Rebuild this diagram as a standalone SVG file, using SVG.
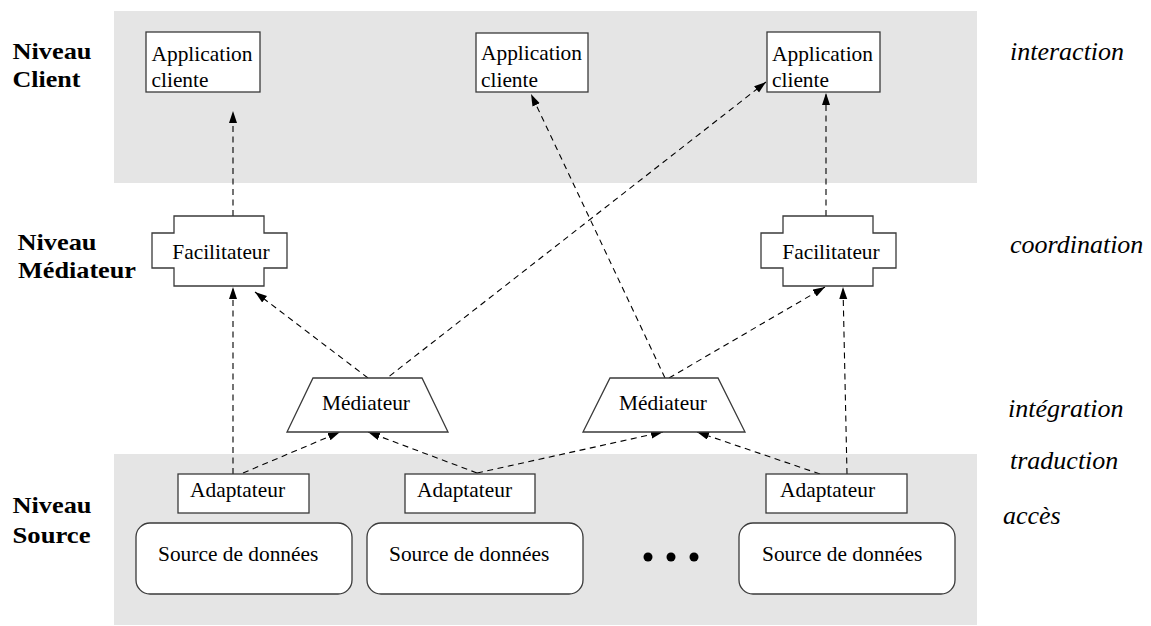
<svg xmlns="http://www.w3.org/2000/svg" width="1151" height="626" viewBox="0 0 1151 626">
  <style>
    .band { fill: #e5e5e5; stroke: none; }
    .box { fill: #ffffff; stroke: #3a3a3a; stroke-width: 1.3; }
    .lbl { font-family: "Liberation Serif", "Times New Roman", serif; font-size: 21.4px; fill: #000; }
    .lvl { font-family: "Liberation Serif", "Times New Roman", serif; font-size: 24px; font-weight: bold; fill: #000; }
    .role { font-family: "Liberation Serif", "Times New Roman", serif; font-size: 26px; font-style: italic; fill: #000; }
    .conn { fill: none; stroke: #000; stroke-width: 1.1; stroke-dasharray: 6 4.5; marker-end: url(#head); }
  </style>
  <defs>
    <marker id="head" markerUnits="userSpaceOnUse" markerWidth="13" markerHeight="9" refX="12" refY="4" orient="auto">
      <path d="M0,0 L12,4 L0,8 z" fill="#000"/>
    </marker>
  </defs>

  <!-- level bands -->
  <rect class="band" x="114" y="11" width="863" height="172"/>
  <rect class="band" x="114" y="454" width="863" height="171"/>

  <!-- level names -->
  <text class="lvl" x="12.5" y="59" textLength="79" lengthAdjust="spacingAndGlyphs">Niveau</text>
  <text class="lvl" x="12.5" y="87" textLength="68" lengthAdjust="spacingAndGlyphs">Client</text>
  <text class="lvl" x="17.5" y="250" textLength="79" lengthAdjust="spacingAndGlyphs">Niveau</text>
  <text class="lvl" x="18" y="278" textLength="118" lengthAdjust="spacingAndGlyphs">Médiateur</text>
  <text class="lvl" x="12.5" y="513" textLength="79" lengthAdjust="spacingAndGlyphs">Niveau</text>
  <text class="lvl" x="12.5" y="543" textLength="78" lengthAdjust="spacingAndGlyphs">Source</text>

  <!-- roles -->
  <text class="role" x="1010" y="60">interaction</text>
  <text class="role" x="1010" y="253">coordination</text>
  <text class="role" x="1008" y="417">intégration</text>
  <text class="role" x="1010" y="469">traduction</text>
  <text class="role" x="1003" y="524">accès</text>

  <!-- connectors -->
  <g id="connectors">
    <line class="conn" x1="233" y1="474" x2="233" y2="287"/>
    <line class="conn" x1="233" y1="216" x2="233" y2="111"/>
    <line class="conn" x1="368" y1="378" x2="255" y2="292"/>
    <line class="conn" x1="373" y1="389" x2="766" y2="82"/>
    <line class="conn" x1="665" y1="378" x2="531" y2="94"/>
    <line class="conn" x1="669" y1="378" x2="825" y2="287"/>
    <line class="conn" x1="847" y1="474" x2="843" y2="287"/>
    <line class="conn" x1="826" y1="216" x2="826" y2="93"/>
    <line class="conn" x1="243" y1="473" x2="340" y2="432"/>
    <line class="conn" x1="477" y1="473" x2="368" y2="432"/>
    <line class="conn" x1="477" y1="473" x2="663" y2="432"/>
    <line class="conn" x1="820" y1="474" x2="697" y2="432"/>
  </g>

  <!-- client applications -->
  <g id="app1">
    <rect class="box" x="146" y="32" width="114" height="60"/>
    <text class="lbl" x="151.5" y="61">Application</text>
    <text class="lbl" x="151.5" y="87">cliente</text>
  </g>
  <g id="app2">
    <rect class="box" x="476" y="33" width="112" height="59"/>
    <text class="lbl" x="481" y="60">Application</text>
    <text class="lbl" x="481" y="87">cliente</text>
  </g>
  <g id="app3">
    <rect class="box" x="767" y="32" width="113" height="60"/>
    <text class="lbl" x="772" y="61">Application</text>
    <text class="lbl" x="772" y="87">cliente</text>
  </g>

  <!-- facilitators -->
  <g id="facilitateur1">
    <path class="box" d="M174,216 H264 V233 H287 V268 H264 V286 H174 V268 H152 V233 H174 Z"/>
    <text class="lbl" x="221" y="259" text-anchor="middle">Facilitateur</text>
  </g>
  <g id="facilitateur2">
    <path class="box" d="M783,216 H873 V233 H896 V268 H873 V286 H783 V268 H761 V233 H783 Z"/>
    <text class="lbl" x="831" y="259" text-anchor="middle">Facilitateur</text>
  </g>

  <!-- mediators -->
  <g id="mediateur1">
    <path class="box" d="M313,378 H422 L448,432 H287 Z"/>
    <text class="lbl" x="366" y="410" text-anchor="middle">Médiateur</text>
  </g>
  <g id="mediateur2">
    <path class="box" d="M610,378 H718 L745,432 H583 Z"/>
    <text class="lbl" x="663" y="410" text-anchor="middle">Médiateur</text>
  </g>

  <!-- adapters -->
  <g id="adaptateur1">
    <rect class="box" x="178" y="474" width="131" height="39"/>
    <text class="lbl" x="190" y="497">Adaptateur</text>
  </g>
  <g id="adaptateur2">
    <rect class="box" x="405" y="474" width="130" height="39"/>
    <text class="lbl" x="417" y="497">Adaptateur</text>
  </g>
  <g id="adaptateur3">
    <rect class="box" x="766" y="474" width="141" height="39"/>
    <text class="lbl" x="780" y="497">Adaptateur</text>
  </g>

  <!-- data sources -->
  <g id="source1">
    <rect class="box" x="136" y="523" width="216" height="71" rx="14"/>
    <text class="lbl" x="158" y="561">Source de données</text>
  </g>
  <g id="source2">
    <rect class="box" x="367" y="523" width="216" height="71" rx="14"/>
    <text class="lbl" x="389" y="561">Source de données</text>
  </g>
  <g id="ellipsis">
    <circle cx="648" cy="557" r="4.5" fill="#000"/>
    <circle cx="671" cy="557" r="4.5" fill="#000"/>
    <circle cx="694" cy="557" r="4.5" fill="#000"/>
  </g>
  <g id="source3">
    <rect class="box" x="739" y="523" width="216" height="71" rx="14"/>
    <text class="lbl" x="762" y="561">Source de données</text>
  </g>
</svg>
